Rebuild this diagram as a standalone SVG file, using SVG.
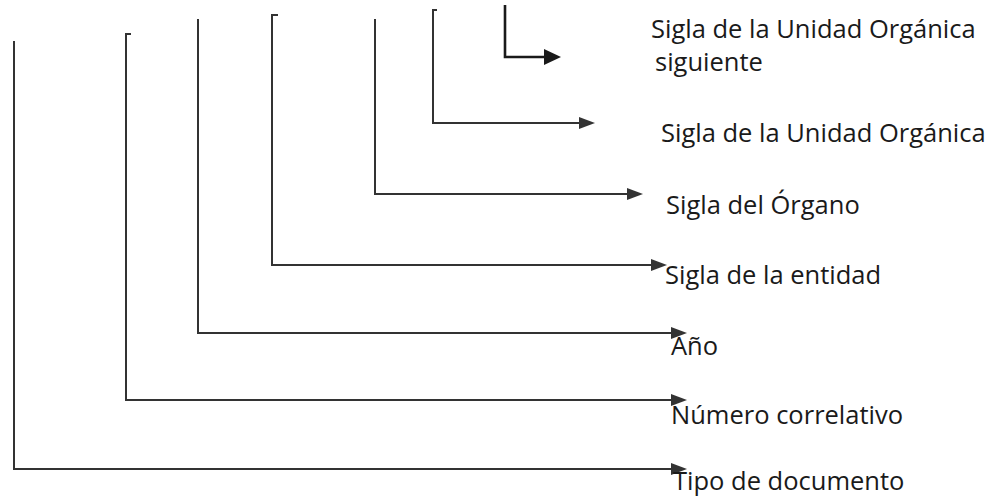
<svg xmlns="http://www.w3.org/2000/svg" width="998" height="497" viewBox="0 0 998 497">
<style>
.c{fill:none;stroke:#333;stroke-width:2;stroke-linecap:square}
.k{fill:none;stroke:#1a1a1a;stroke-width:2.6}
.h{fill:#333}
.t{font-family:"Open Sans","Noto Sans",sans-serif;font-size:25.5px;fill:#1a1a1a}
</style>
<rect width="998" height="497" fill="#fff"/>
<g id="connectors">
<path class="c" d="M14,42 V469 H672"/>
<polygon class="h" points="687,469 671,463 671,475"/>
<path class="c" d="M130,34 H126 V400 H672"/>
<polygon class="h" points="687,400 671,394 671,406"/>
<path class="c" d="M198,20 V333 H672"/>
<polygon class="h" points="687,333 671,327 671,339"/>
<path class="c" d="M277,15 H272 V265 H652"/>
<polygon class="h" points="667,265 651,259 651,271"/>
<path class="c" d="M375,20 V194 H628"/>
<polygon class="h" points="643,194 627,188 627,200"/>
<path class="c" d="M436,10 H433 V123 H580"/>
<polygon class="h" points="595,123 579,117 579,129"/>
<path class="k" d="M505,5 V57 H545"/>
<polygon fill="#1a1a1a" points="561,57 544,49 544,65"/>
</g>
<g id="n1"><text class="t" x="651" y="38">Sigla de la Unidad Orgánica</text><text class="t" x="655" y="71">siguiente</text></g>
<g id="n2"><text class="t" x="661" y="142">Sigla de la Unidad Orgánica</text></g>
<g id="n3"><text class="t" x="666" y="214">Sigla del Órgano</text></g>
<g id="n4"><text class="t" x="665" y="284">Sigla de la entidad</text></g>
<g id="n5"><text class="t" x="671" y="355">Año</text></g>
<g id="n6"><text class="t" x="671" y="424">Número correlativo</text></g>
<g id="n7"><text class="t" x="673" y="490">Tipo de documento</text></g>
</svg>
